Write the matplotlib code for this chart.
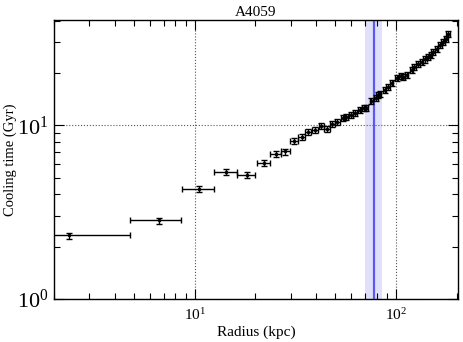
import matplotlib
matplotlib.use("Agg")
import matplotlib.pyplot as plt
import numpy as np

plt.rcParams['font.family'] = ['Liberation Serif', 'DejaVu Serif']
plt.rcParams['mathtext.fontset'] = 'stix'

title = "A4059"
xlabel = "Radius (kpc)"
ylabel = "Cooling time (Gyr)"

radius = [2.37, 6.67, 10.5, 14.3, 18.1, 22.0, 25.2, 28.2, 31.1, 34.0, 36.5, 39.7,
          42.6, 45.4, 48.3, 51.1, 54.5, 56.6, 60.0, 62.8, 65.9, 69.1, 71.2, 75.4,
          79.3, 81.3, 82.8, 87.8, 91.3, 94.9, 100.5, 105.2, 108.4, 112.7, 119.4,
          123.0, 128.8, 133.8, 138.9, 144.3, 148.5, 152.8, 158.9, 165.0, 171.3,
          176.6, 181.5]
radius_err = [2.4, 1.9, 1.9, 1.9, 1.9, 1.7, 1.5, 1.4, 1.4, 1.3, 1.3, 1.3,
              1.3, 1.3, 1.3, 1.3, 1.3, 1.3, 1.4, 1.4, 1.4, 1.5, 1.5, 1.6,
              1.6, 1.7, 1.7, 1.8, 1.9, 2.0, 2.1, 2.2, 2.3, 2.4, 2.5,
              2.6, 2.7, 2.8, 2.9, 3.0, 3.1, 3.2, 3.3, 3.4, 3.5,
              3.6, 3.7]
tcool = [2.32, 2.83, 4.29, 5.39, 5.16, 6.07, 6.84, 7.06, 8.09, 8.57, 9.15, 9.36,
         9.87, 9.48, 10.2, 10.4, 11.07, 11.2, 11.5, 11.8, 12.2, 12.5, 12.6, 13.8,
         14.3, 14.9, 15.1, 15.9, 16.6, 17.4, 18.8, 19.1, 18.9, 19.4, 20.7,
         21.6, 22.6, 23.1, 23.9, 24.7, 25.4, 26.4, 27.6, 28.8, 30.1,
         31.5, 33.3]
tcool_err_frac = 0.04

r_line = 77.3
r_band = (69.8, 85.1)

fig = plt.figure(figsize=(4.63, 3.42), dpi=100)
ax = fig.add_axes([54/463, 1-299/342, (458-54)/463, (299-20)/342])

ax.axvspan(r_band[0], r_band[1], color='#e0e0fb', lw=0, zorder=0)
ax.axvline(r_line, color='#5a5aee', lw=1.6, zorder=1)

tc = np.array(tcool)
ax.errorbar(radius, tcool, xerr=radius_err, yerr=tc*tcool_err_frac, fmt='.',
            color='black', ms=3, elinewidth=1.0, capsize=2, capthick=1.0, zorder=3)

ax.set_xscale('log')
ax.set_yscale('log')
ax.set_xlim(2.0, 203)
ax.set_ylim(1, 40.3)

ax.grid(True, which='major', ls=':', color='#555555', lw=0.8)
ax.tick_params(which='both', direction='in', top=True, right=True)
ax.tick_params(which='major', length=7, width=0.8)
ax.tick_params(which='minor', length=4, width=0.8)
ax.tick_params(axis='x', which='major', labelsize=11, pad=6)
ax.tick_params(axis='y', which='major', labelsize=16, pad=4)
for s in ax.spines.values():
    s.set_linewidth(1.0)

ax.set_title(title, fontsize=11, pad=3)
ax.set_xlabel(xlabel, fontsize=11, labelpad=2)
ax.set_ylabel(ylabel, fontsize=10.5, labelpad=0)

fig.savefig("out.png", dpi=100)
